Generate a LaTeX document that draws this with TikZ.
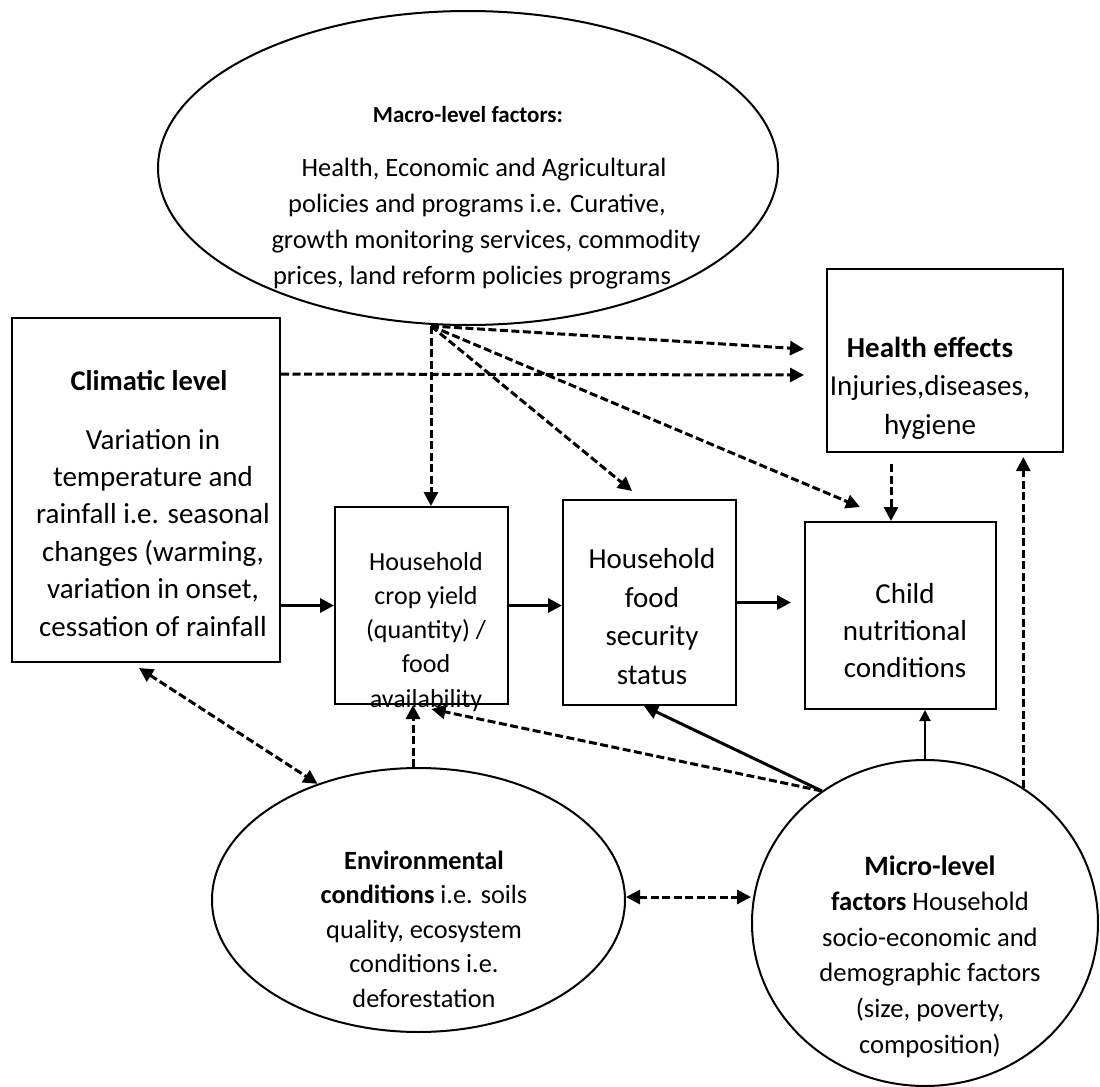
\documentclass[tikz,border=0pt]{standalone}
\usepackage{fontspec}
\setmainfont{Carlito}
\usetikzlibrary{shapes.geometric,arrows.meta,calc}
\begin{document}
\begin{tikzpicture}[x=0.5pt,y=-0.5pt,
  box/.style={draw,line width=1pt,rectangle,inner sep=0pt},
  oval/.style={draw,line width=1pt,ellipse,inner sep=0pt},
  txt/.style={align=center,inner sep=0pt,anchor=base},
  tip/.style={-{Triangle[length=7pt,width=7pt]}},
  dasharr/.style={line width=1.5pt,dash pattern=on 4pt off 1.75pt,tip},
  solarr/.style={line width=1.5pt,tip},
  thinarr/.style={line width=1pt,-{Triangle[length=5.5pt,width=5.5pt]}},
  dbl/.style={line width=1.5pt,dash pattern=on 4pt off 1.75pt,{Triangle[length=7pt,width=7pt]}-{Triangle[length=7pt,width=7pt]}}
]
\useasboundingbox (0,0) rectangle (1100,1087);
\fill[white] (0,0) rectangle (1100,1087);

% shapes
\node[oval,minimum width=310pt,minimum height=157pt] (macro) at (468,168) {};
\node[box,minimum width=134pt,minimum height=172pt] (climatic) at (146,490) {};
\node[box,minimum width=86.5pt,minimum height=98.5pt] (crop) at (421.5,605.5) {};
\node[box,minimum width=86.5pt,minimum height=102.5pt] (food) at (649.5,602.5) {};
\node[box,minimum width=95.5pt,minimum height=93.5pt] (child) at (900.5,615.5) {};
\node[box,minimum width=118pt,minimum height=91.5pt] (health) at (945,360.5) {};
\node[oval,minimum width=206.5pt,minimum height=132pt] (env) at (418.5,900) {};
\node[oval,minimum width=173pt,minimum height=163pt] (micro) at (925,923) {};

% texts (multi-line nodes: base = baseline of the last line)
\node[txt,font=\bfseries\fontsize{11.5}{14}\selectfont] (macrot) at (468,122) {Macro-level factors:};
\node[txt,font=\fontsize{13.25}{17.85}\selectfont] (macrob) at (477,284)
  {\hspace*{7pt}Health, Economic and Agricultural\\policies and programs i.e. Curative,\hspace*{9pt}\\\hspace*{9pt}growth monitoring services, commodity\\prices, land reform policies programs\hspace*{5pt}};
\node[txt,font=\bfseries\fontsize{14.25}{19}\selectfont] (climt) at (149,390) {Climatic level};
\node[txt,font=\fontsize{14.5}{18.7}\selectfont] (climb) at (153,636)
  {Variation in\\temperature and\\rainfall i.e. seasonal\\changes (warming,\\variation in onset,\\cessation of rainfall};
\node[txt,font=\fontsize{13}{17.1}\selectfont] (cropt) at (426,707)
  {Household\\crop yield\\(quantity) /\\food\\availability};
\node[txt,font=\fontsize{14.5}{19.2}\selectfont] (foodt) at (652,684)
  {Household\\food\\security\\status};
\node[txt,font=\fontsize{14.5}{18.5}\selectfont] (childt) at (905,677)
  {Child\\nutritional\\conditions};
\node[txt,font=\fontsize{14.5}{19.25}\selectfont] (healtht) at (930,434)
  {\textbf{Health effects}\\Injuries,diseases,\\hygiene};
\node[txt,font=\fontsize{13.15}{17.25}\selectfont] (envt) at (424,1007)
  {\textbf{Environmental}\\\textbf{conditions} i.e. soils\\quality, ecosystem\\conditions i.e.\\deforestation};
\node[txt,font=\fontsize{13.3}{17.8}\selectfont] (microt) at (930,1053)
  {{\fontsize{14}{17.8}\selectfont\textbf{Micro-level}}\\\textbf{factors} Household\\socio-economic and\\demographic factors\\(size, poverty,\\composition)};

% connectors
\coordinate (mo) at ($(macro.south)+(-37,0)$);
\draw[dasharr] (mo) -- ($(health.west)+(-22,-11.5)$);
\draw[dasharr] (mo) -- (mo |- crop.north);
\draw[dasharr] (mo) -- ($(food.north)+(-17.5,-8)$);
\draw[dasharr] (mo) -- ($(child.north)+(-40.5,-14)$);
\draw[dasharr] ($(climatic.north east)+(0,57)$) -- ($(health.west)+(-22,14.5)$);

\draw[solarr] (climatic.east |- crop.west) -- (crop.west);
\draw[solarr] (crop.east) -- (crop.east -| food.west);
\draw[solarr] (food.east) -- ($(food.east -| child.west)+(-13,0)$);

\coordinate (hs) at ($(health.south)+(-54,11)$);
\draw[dasharr] (hs) -- (hs |- child.north);

\draw[dasharr] (micro.54.8) -- ($(micro.54.8 |- health.south)+(0,4)$);
\draw[thinarr] (micro.north) -- (micro.north |- child.south);
\draw[solarr] (micro.128.4) -- ($(food.south)+(-5.5,0)$);
\draw[dasharr] (micro.128.4) -- ($(crop.south)+(10,4)$);

\coordinate (en) at ($(env.north)+(-5.5,0)$);
\draw[dasharr] (en) -- (en |- crop.south);
\draw[dbl] ($(climatic.south west)+(128,5)$) -- (env.131.8);
\draw[dbl] ($(env.east)+(0,-3)$) -- ($(env.east -| micro.west)+(0,-3)$);
\end{tikzpicture}
\end{document}
